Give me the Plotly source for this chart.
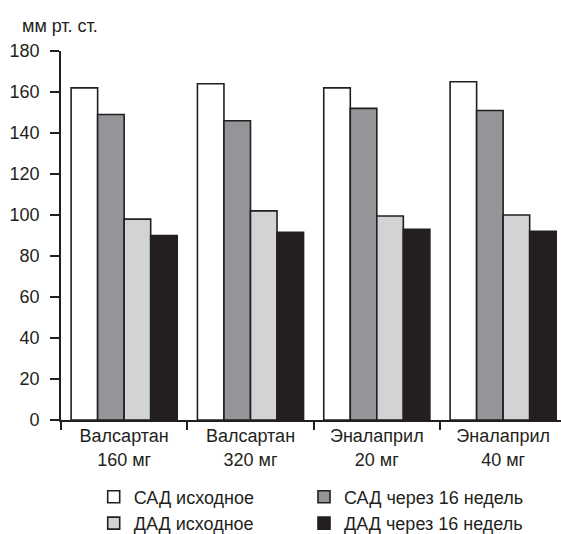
import plotly.graph_objects as go

categories = ["Валсартан<br>160 мг", "Валсартан<br>320 мг", "Эналаприл<br>20 мг", "Эналаприл<br>40 мг"]
sad_base = [162, 164, 162, 165]
sad_16w = [149, 146, 152, 151]
dad_base = [98, 102, 99.5, 100]
dad_16w = [90, 91.5, 93, 92]
series_names = ["САД исходное", "САД через 16 недель", "ДАД исходное", "ДАД через 16 недель"]
y_ticks = [0, 20, 40, 60, 80, 100, 120, 140, 160, 180]

INK = "#231f20"
colors = ["#ffffff", "#939598", "#d1d3d4", INK]
legends = ["legend", "legend2", "legend", "legend2"]
values = [sad_base, sad_16w, dad_base, dad_16w]

FONT = "Liberation Sans, Arial, sans-serif"
FS = 18

# plot area geometry (pixels)
L, T, W, H = 61, 51, 500, 369


def px_x(x):
    return (x - L) / W


def px_y(y):
    return (T + H - y) / H


fig = go.Figure()
for name, vals, col, lg in zip(series_names, values, colors, legends):
    fig.add_trace(go.Bar(
        x=categories, y=vals, name=name,
        marker=dict(color=col, line=dict(color=INK, width=1.6)),
        legend=lg, legendgroup=name,
    ))

leg_common = dict(orientation="v", xanchor="left", yanchor="top",
                  tracegroupgap=0, font=dict(family=FONT, size=FS, color=INK),
                  bgcolor="rgba(0,0,0,0)", borderwidth=0)

fig.update_layout(
    width=561, height=534,
    margin=dict(l=L, r=561 - L - W, t=T, b=534 - T - H, autoexpand=False),
    paper_bgcolor="white", plot_bgcolor="white",
    font=dict(family=FONT, size=FS, color=INK),
    barmode="group", bargap=0.16, bargroupgap=0,
    showlegend=True,
    legend=dict(x=px_x(93.7), y=px_y(478.5), **leg_common),
    legend2=dict(x=px_x(304), y=px_y(478.5), **leg_common),
    annotations=[dict(text="мм рт. ст.", xref="paper", yref="paper",
                      x=px_x(20), y=px_y(25.5),
                      xanchor="left", yanchor="middle", showarrow=False,
                      font=dict(family=FONT, size=FS, color=INK))],
)

fig.update_xaxes(
    range=[-0.5, 3.458], showline=True, linecolor=INK, linewidth=1.6,
    ticks="outside", tickson="boundaries", ticklen=8, tickwidth=1.6, tickcolor=INK,
    showgrid=False, zeroline=False, automargin=False, tickangle=0,
    ticklabelstandoff=-1,
)
fig.update_yaxes(
    range=[0, 180], tickvals=y_ticks, showline=True, linecolor=INK, linewidth=1.6,
    ticks="outside", ticklen=9, tickwidth=1.6, tickcolor=INK,
    showgrid=False, zeroline=False, ticklabelstandoff=7, automargin=False,
)

# remove the browser's default page margin so the figure sits at the window origin
fig.write_html("out.html", config={"displayModeBar": False},
               post_script="document.body.style.margin='0';")
